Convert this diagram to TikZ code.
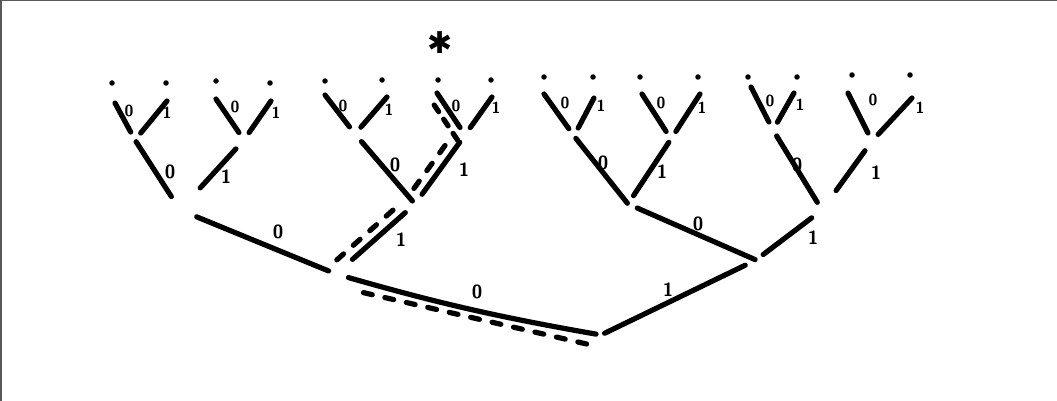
\documentclass[tikz,border=0pt]{standalone}
\usepackage{fontspec}
\newfontfamily\symfont{DejaVu Sans}
\usetikzlibrary{calc, positioning}

\begin{document}
\begin{tikzpicture}[
    x=1pt, y=-1pt,
    font      = \fontsize{19}{19}\selectfont\bfseries\sffamily,
    pt/.style   = {circle, fill=black, inner sep=0pt, minimum size=5.5pt},
    edge/.style = {line width=5.2pt, line cap=round},
    trail/.style= {edge, dash pattern=on 9pt off 13pt},
    lbl/.style  = {inner sep=0pt},
    slbl/.style = {lbl, font=\fontsize{16}{16}\selectfont\bfseries\sffamily}
  ]
  \useasboundingbox (0,0) rectangle (1057,401);
  \draw[gray!70!black, line width=1.5pt] (0.75,401) -- (0.75,0.75) -- (1057,0.75);

  % leaves: dot, then the top of its stroke just below
  \foreach \dx/\dy/\tx/\ty [count=\i] in {112/83/115/103, 166/83/167/101, 216/81/216/99, 270/83/271/101,
      325/81/325/95, 382/80/387/97, 438/80/437/93, 491/80/492/97, 544/77/544/94, 593/77/594/98,
      640/77/642/94, 698/77/700/94, 748/77/751/87, 797/77/794/93, 852/75/848/93, 910/75/912/98}
    {\node[pt] (d\i) at (\dx,\dy) {};
     \coordinate (L\i) at (\tx,\ty);}

  % inner junctions (never drawn)
  \coordinate (P1) at (135,140); \coordinate (P2) at (244,140);
  \coordinate (P3) at (355,134); \coordinate (P4) at (465,135);
  \coordinate (P5) at (574,136); \coordinate (P6) at (671,139);
  \coordinate (P7) at (773,130); \coordinate (P8) at (872,141);
  \coordinate (S1) at (180,210); \coordinate (S2) at (415,204);
  \coordinate (S3) at (628,204); \coordinate (S4) at (822,210);
  \coordinate (T1) at (336,274); \coordinate (T2) at (756,260);
  \coordinate (R)  at (601,335);

  % lowest level
  \foreach \i [evaluate=\i as \a using int(2*\i-1), evaluate=\i as \b using int(2*\i)] in {1,...,8}
    {\draw[edge, shorten <=9pt] (P\i) -- (L\a);
     \draw[edge, shorten <=9pt] (P\i) -- (L\b);}

  % second level
  \draw[edge, shorten <=16pt, shorten >=2pt]  (S1) -- (P1);
  \draw[edge, shorten <=30pt, shorten >=12pt] (S1) -- (P2);
  \draw[edge, shorten <=4pt,  shorten >=10pt] (S2) -- (P3);
  \draw[edge, shorten <=12pt, shorten >=9pt]  (S2) -- (P4);
  \draw[edge, shorten <=1pt,  shorten >=3pt]  (S3) -- (P5);
  \draw[edge, shorten <=10pt, shorten >=4pt]  (S3) -- (P6);
  \draw[edge, shorten <=9pt,  shorten >=7pt]  (S4) -- (P7);
  \draw[edge, shorten <=24pt, shorten >=12pt] (S4) -- (P8);

  % first level
  \draw[edge, shorten <=8pt,  shorten >=18pt] (T1) -- (S1);
  \draw[edge, shorten <=22pt, shorten >=13pt] (T1) -- (S2);
  \draw[edge, shorten <=1pt,  shorten >=10pt] (T2) -- (S3);
  \draw[edge, shorten <=9pt,  shorten >=13pt] (T2) -- (S4);

  % root
  \draw[edge, shorten <=5pt, shorten >=13pt] (R) to[bend left=3] (T1);
  \draw[edge, shorten <=4pt, shorten >=12pt] (R) -- (T2);

  % dashed trail down to the marked leaf
  \draw[trail, shorten <=12pt, shorten >=20pt] ($(R)!12pt!90:(T1)$) -- ($(T1)!12pt!-90:(R)$);
  \draw[trail, shorten <=10pt, shorten >=13pt] ($(T1)!10pt!90:(S2)$) -- ($(S2)!10pt!-90:(T1)$);
  \draw[trail, shorten <=12pt, shorten >=10pt] ($(S2)!10pt!90:(P4)$) -- ($(P4)!10pt!-90:(S2)$);
  \draw[trail, dash pattern=on 8pt off 9pt]    ($(P4)!9pt!90:(L7)$)  -- ($(L7)!9pt!-90:(P4)$);

  \node[font=\fontsize{30}{30}\selectfont\symfont] (star) at (440,43) {✱};

  % branch labels, top row smaller
  \foreach \x/\y/\t [count=\i] in {129/111/0, 167/113/1, 235/107/0, 276/113/1, 343/106/0, 389/110/1,
      456/106/0, 496/108/1, 565/103/0, 601/106/1, 661/103/0, 702/108/1, 770/101/0, 800/105/1,
      873/100/0, 920/108/1}
    {\node[slbl] (a\i) at (\x,\y) {\t};}
  \foreach \x/\y/\t [count=\i] in {170/172/0, 226/177/1, 395/165/0, 464/170/1, 603/163/0, 662/172/1,
      797/165/0, 876/173/1, 278/232/0, 401/240/1, 698/224/0, 813/238/1, 477/292/0, 668/290/1}
    {\node[lbl] (b\i) at (\x,\y) {\t};}
\end{tikzpicture}
\end{document}
